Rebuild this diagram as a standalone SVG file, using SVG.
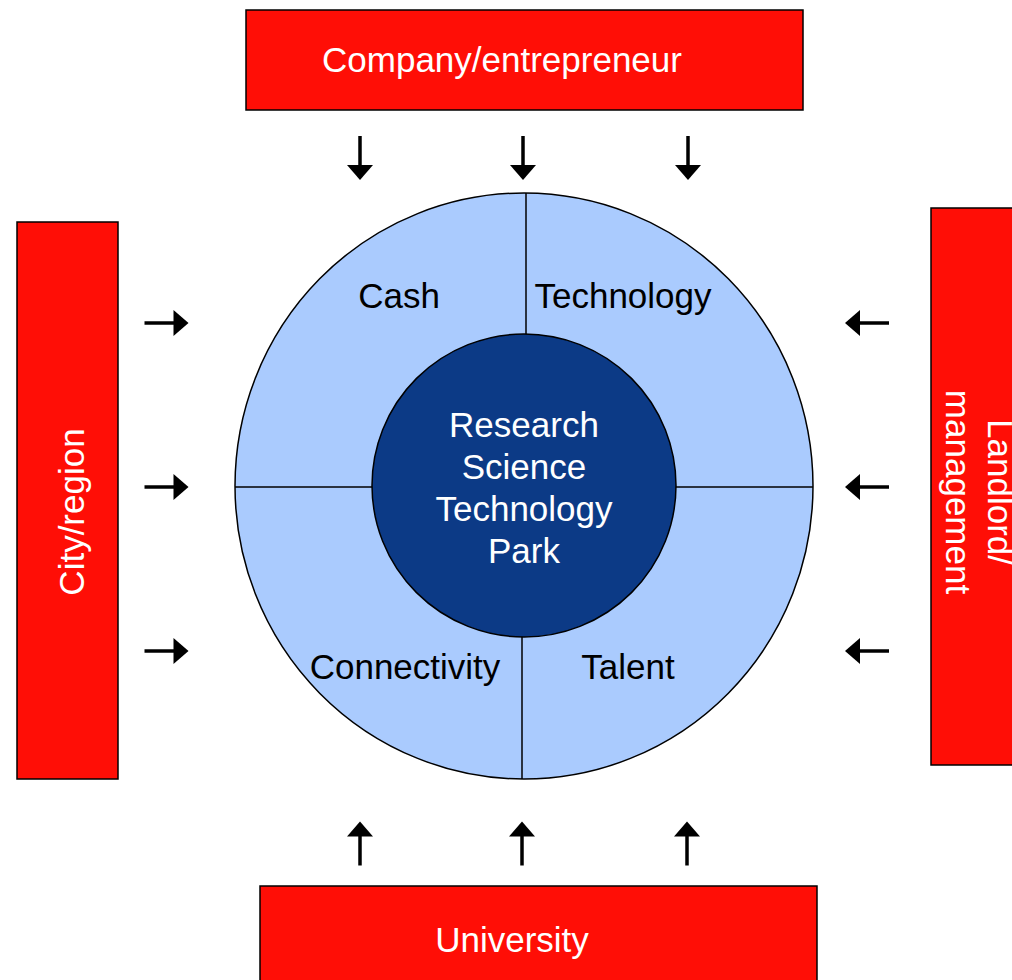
<svg xmlns="http://www.w3.org/2000/svg" width="1012" height="980" viewBox="0 0 1012 980">
<style>
.box{fill:#FF0E06;stroke:#000;stroke-width:1.5}
.bt{fill:#fff;font-family:"Liberation Sans",Arial,sans-serif;font-size:35px;text-anchor:middle}
.lt{fill:#000;font-family:"Liberation Sans",Arial,sans-serif;font-size:35px;text-anchor:middle}
.ln{stroke:#000;stroke-width:1.5;fill:none}
</style>
<defs>
<g id="arr">
<line x1="0" y1="-22" x2="0" y2="8" stroke="#000" stroke-width="3.5"/>
<path d="M-13,7 L13,7 L0,22 Z" fill="#000"/>
</g>
</defs>
<rect width="1012" height="980" fill="#fff"/>
<g id="company">
<rect class="box" x="246" y="10" width="557" height="100"/>
<text class="bt" x="502" y="72">Company/entrepreneur</text>
</g>
<g id="city">
<rect class="box" x="17" y="222" width="101" height="557"/>
<text class="bt" transform="translate(84,512) rotate(-90)">City/region</text>
</g>
<g id="landlord">
<rect class="box" x="931" y="208" width="100" height="557"/>
<text class="bt" transform="translate(988,492) rotate(90)">Landlord/</text>
<text class="bt" transform="translate(946,492) rotate(90)">management</text>
</g>
<g id="university">
<rect class="box" x="260" y="886" width="557" height="110"/>
<text class="bt" x="512" y="952">University</text>
</g>
<g id="ring">
<ellipse cx="524" cy="486" rx="289" ry="293" fill="#AACBFE" stroke="#000" stroke-width="1.5"/>
<line class="ln" x1="235" y1="487" x2="813" y2="487"/>
<line class="ln" x1="526" y1="193" x2="526" y2="340"/>
<line class="ln" x1="522" y1="630" x2="522" y2="779"/>
<text class="lt" x="399" y="308">Cash</text>
<text class="lt" x="623" y="308">Technology</text>
<text class="lt" x="405" y="679">Connectivity</text>
<text class="lt" x="628" y="679">Talent</text>
</g>
<g id="park">
<ellipse cx="524" cy="485.5" rx="152" ry="151.5" fill="#0C3A86" stroke="#000" stroke-width="1.5"/>
<text class="bt" x="524" y="437">Research</text>
<text class="bt" x="524" y="479">Science</text>
<text class="bt" x="524" y="521">Technology</text>
<text class="bt" x="524" y="563">Park</text>
</g>
<g id="connectors">
<use href="#arr" transform="translate(360,158)"/>
<use href="#arr" transform="translate(523,158)"/>
<use href="#arr" transform="translate(688,158)"/>
<use href="#arr" transform="translate(360,843.5) rotate(180)"/>
<use href="#arr" transform="translate(522,843.5) rotate(180)"/>
<use href="#arr" transform="translate(687,843.5) rotate(180)"/>
<use href="#arr" transform="translate(166.5,323) rotate(-90)"/>
<use href="#arr" transform="translate(166.5,487) rotate(-90)"/>
<use href="#arr" transform="translate(166.5,651) rotate(-90)"/>
<use href="#arr" transform="translate(867,323) rotate(90)"/>
<use href="#arr" transform="translate(867,487) rotate(90)"/>
<use href="#arr" transform="translate(867,651) rotate(90)"/>
</g>
</svg>
